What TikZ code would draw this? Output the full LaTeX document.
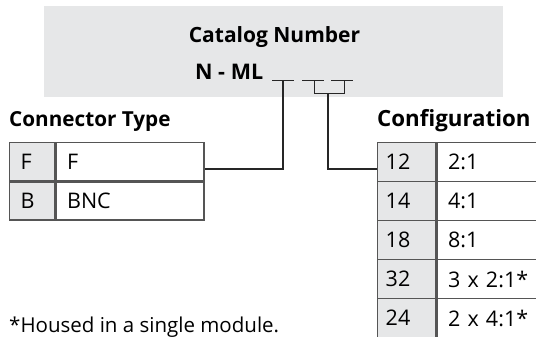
\documentclass[tikz,border=0pt]{standalone}
\usepackage{fontspec}
\setmainfont{Open Sans}
\usetikzlibrary{positioning}
\definecolor{boxgray}{HTML}{E6E7E8}
\definecolor{rulegray}{HTML}{555555}
\tikzset{
  cell/.style = {draw=rulegray, line width=1.4pt, rectangle, inner xsep=11pt,
    inner ysep=0pt, align=left, anchor=north west, font=\fontsize{21.5}{24}\selectfont},
  keycell/.style = {cell, fill=boxgray},
  title/.style = {anchor=base west, inner sep=0pt, font=\fontsize{21}{24}\selectfont\bfseries},
  wire/.style = {line width=1.3pt, black!85}
}
\begin{document}
\begin{tikzpicture}[x=1pt,y=-1pt]
  \useasboundingbox (0,0) rectangle (536,337);
  \clip (0,0) rectangle (536,337);
  \fill[boxgray] (44,6) rectangle (503,97);
  \node[title, anchor=base] (cat) at (274.5,43) {Catalog Number};
  \node[title, font=\fontsize{21.5}{24}\selectfont\bfseries] (pn) at (195,80) {N - ML};
  % blanks of the part number
  \draw[wire, line width=1pt] (272,81) -- (294,81) (302,81) -- (324,81) (331,81) -- (353,81);
  \coordinate (b1) at (283,81);
  \coordinate (b2) at (328,94);
  \draw[wire, line width=1pt] (314,81) |- (344,94) -- (344,81);
  % connector type
  \node[title, font=\fontsize{20.7}{24}\selectfont\bfseries] (ctt) at (9,127) {Connector Type};
  \node[keycell, text width=23pt, minimum height=38pt] (ct1k) at (9,142) {F};
  \node[cell, text width=126pt, minimum height=38pt, anchor=north west] (ct1v) at (ct1k.north east) {F};
  \node[keycell, text width=23pt, minimum height=38pt] (ct2k) at (ct1k.south west) {B};
  \node[cell, text width=126pt, minimum height=38pt] (ct2v) at (ct2k.north east) {BNC};
  % configuration
  \node[title, font=\fontsize{22.3}{24}\selectfont\bfseries] (cft) at (377,127) {Configuration};
  \foreach \k/\v [count=\i] in {12/2:1, 14/4:1, 18/8:1, 32/3 x 2:1*, 24/2 x 4:1*} {
    \node[keycell, minimum height=39pt, inner xsep=8pt, text width=42pt] (cf\i k) at (377,142+39*\i-39) {\k};
    \node[cell, text width=120pt, minimum height=39pt] (cf\i v) at (cf\i k.north east) {\v};
  }
  \coordinate (j1) at (283,169);
  \coordinate (j2) at (328,169);
  \draw[wire] (b1) -- (j1) -- (j1 -| ct1v.east);
  \draw[wire] (b2) -- (j2) -- (j2 -| cf1k.west);
  \node[anchor=base west, inner sep=0pt, font=\fontsize{20.5}{23}\selectfont] (note) at (9,332) {*Housed in a single module.};
\end{tikzpicture}
\end{document}
